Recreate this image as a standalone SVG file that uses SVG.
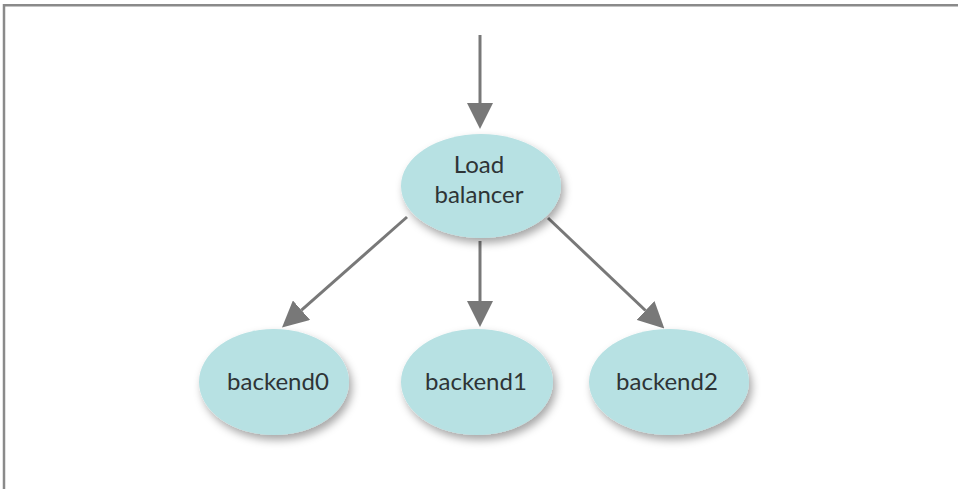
<svg xmlns="http://www.w3.org/2000/svg" width="958" height="489" viewBox="0 0 958 489">
  <style>
    .node ellipse { fill: #b7e1e3; filter: url(#shadow); }
    .node text { font-family: Lato, "Open Sans", "Liberation Sans", sans-serif; font-size: 24px; fill: #2e3436; text-anchor: middle; }
    .edge { stroke: #787878; stroke-width: 3; fill: none; marker-end: url(#arrow); }
    .frame { stroke: #8a8a8a; stroke-width: 2.5; fill: none; }
  </style>
  <defs>
    <filter id="shadow" x="-20%" y="-20%" width="150%" height="150%">
      <feDropShadow dx="3" dy="5" stdDeviation="4" flood-color="#000" flood-opacity="0.35"/>
    </filter>
    <marker id="arrow" markerUnits="userSpaceOnUse" markerWidth="26" markerHeight="26" viewBox="0 0 24 24" refX="0" refY="12" orient="auto">
      <path d="M0,0 L24,12 L0,24 Z" fill="#787878"/>
    </marker>
  </defs>
  <rect width="958" height="489" fill="#ffffff"/>
  <path class="frame" d="M4,489 V5.3 H958"/>

  <g id="connectors">
    <path class="edge" d="M480,35 V103"/>
    <path class="edge" d="M480,241 V301"/>
    <path class="edge" d="M407,217 L301.5,310.2"/>
    <path class="edge" d="M548,218 L645.5,310.5"/>
  </g>

  <g id="load-balancer" class="node">
    <ellipse cx="481" cy="186" rx="80" ry="52"/>
    <text x="479" y="173">Load</text>
    <text x="479" y="203">balancer</text>
  </g>
  <g id="backend0" class="node">
    <ellipse cx="274" cy="382" rx="75" ry="53"/>
    <text x="278" y="390">backend0</text>
  </g>
  <g id="backend1" class="node">
    <ellipse cx="477" cy="382" rx="76" ry="53"/>
    <text x="476" y="390">backend1</text>
  </g>
  <g id="backend2" class="node">
    <ellipse cx="669" cy="382" rx="80" ry="53"/>
    <text x="667" y="390">backend2</text>
  </g>
</svg>
